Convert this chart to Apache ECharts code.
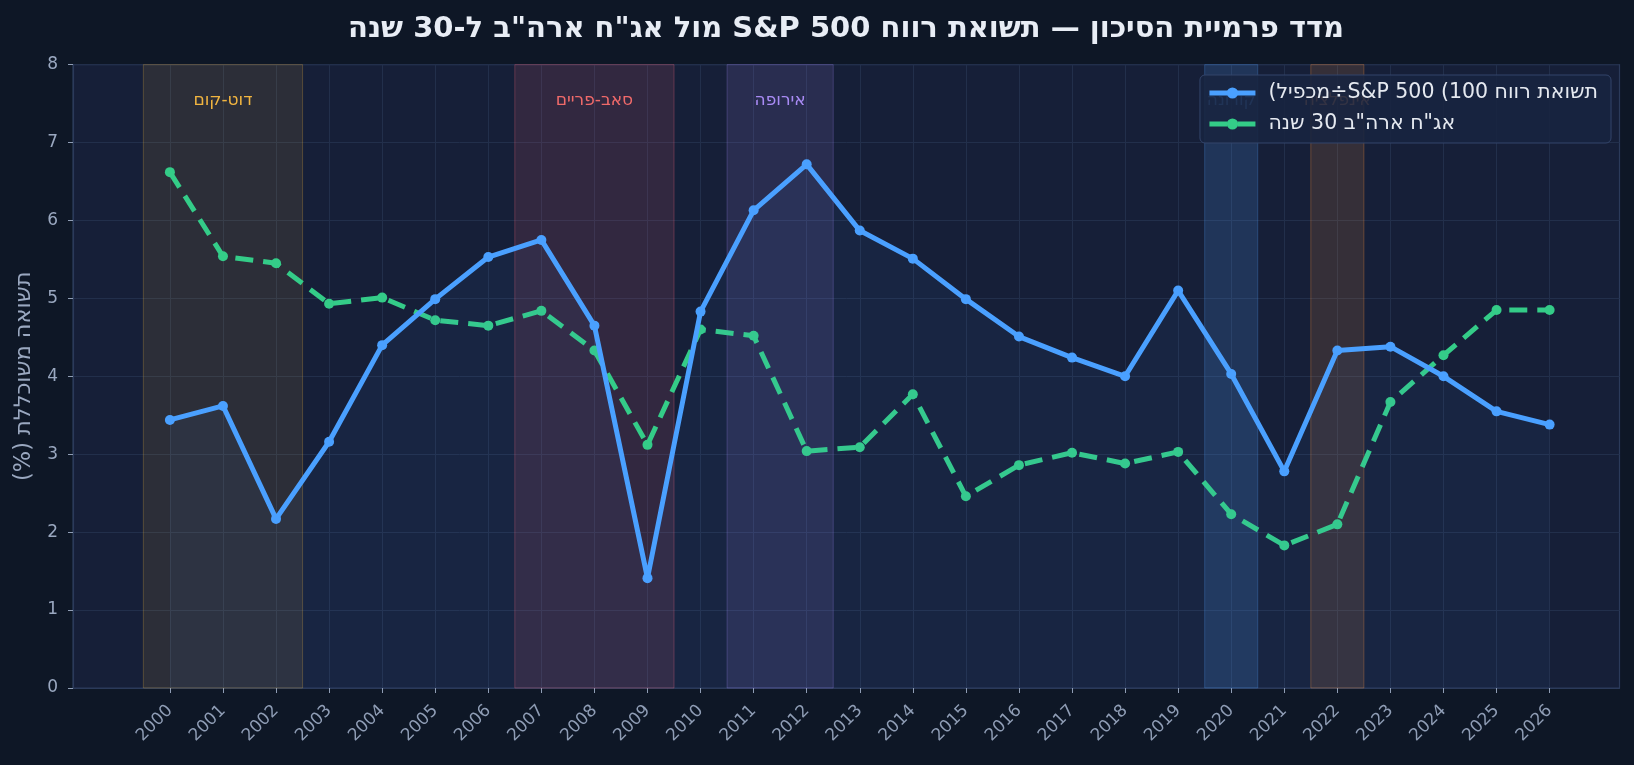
<!DOCTYPE html>
<html>
<head>
<meta charset="utf-8">
<script src="https://cdn.jsdelivr.net/npm/echarts@6/dist/echarts.min.js"></script>
<style>
html,body{margin:0;padding:0;background:#0e1726;}
#chart{width:1634px;height:765px;direction:rtl;}
</style>
</head>
<body>
<div id="chart" dir="rtl"></div>
<script>
const years = [2000,2001,2002,2003,2004,2005,2006,2007,2008,2009,2010,2011,2012,2013,2014,2015,2016,2017,2018,2019,2020,2021,2022,2023,2024,2025,2026];
const earningsYield = [3.44,3.62,2.17,3.16,4.40,4.99,5.53,5.75,4.65,1.41,4.83,6.13,6.72,5.87,5.51,4.99,4.51,4.24,4.00,5.10,4.03,2.78,4.33,4.38,4.00,3.55,3.38];
const treasury30 = [6.62,5.54,5.45,4.93,5.01,4.72,4.65,4.84,4.33,3.12,4.60,4.52,3.04,3.09,3.77,2.46,2.86,3.02,2.88,3.03,2.23,1.83,2.10,3.67,4.27,4.85,4.85];
// \u2066 ... \u2069 = LTR isolate, so the brackets are laid out as in the reference
const seriesNames = ['תשואת רווח \u2066S&P 500 (100\u2069÷מכפיל)', 'אג"ח ארה"ב 30 שנה'];
const bandLabels = ['דוט-קום','סאב-פריים','אירופה','קורונה','אינפלציה'];
const bandStart = [1999.5,2006.5,2010.5,2019.5,2021.5];
const bandEnd = [2002.5,2009.5,2012.5,2020.5,2022.5];
const bandColors = ['rgba(245,184,61,0.10)','rgba(240,100,120,0.13)','rgba(167,139,250,0.13)','rgba(74,144,226,0.2)','rgba(251,146,60,0.14)'];
const bandBorders = ['rgba(245,184,61,0.25)','rgba(240,100,120,0.3)','rgba(167,139,250,0.25)','rgba(74,144,226,0.3)','rgba(251,146,60,0.3)'];
const bandTextColors = ['#f0b440','#f06a6a','#a98bf5','#5b9bf0','#f0935a'];
const yTicks = [0,1,2,3,4,5,6,7,8];

const FONT = 'DejaVu Sans';
const chart = echarts.init(document.getElementById('chart'), null, {renderer:'canvas'});

const markData = bandLabels.map((n,i)=>[
  {xAxis: bandStart[i], name: n,
   itemStyle:{color: bandColors[i], borderColor: bandBorders[i], borderWidth: 1},
   label:{color: bandTextColors[i]}},
  {xAxis: bandEnd[i]}
]);

chart.setOption({
  backgroundColor:'#0e1726',
  animation:false,
  textStyle:{fontFamily:FONT},
  title:{
    text:'מדד פרמיית הסיכון — תשואת רווח S&P 500 מול אג"ח ארה"ב ל-30 שנה',
    left:846, top:12, padding:0, textAlign:'center',
    textStyle:{color:'#e8edf5', fontSize:29, lineHeight:34, fontWeight:'bold', fontFamily:FONT}
  },
  grid:{left:73, right:14.5, top:64.6, bottom:77, show:true,
        backgroundColor:'#161f38', borderColor:'#2b3a5a', borderWidth:1.2},
  legend:{
    orient:'vertical', right:23, top:75, z:20,
    padding:[7,13,8,7], itemGap:9,
    itemWidth:46, itemHeight:14,
    backgroundColor:'rgba(24,36,64,0.88)', borderColor:'#33446a', borderWidth:1, borderRadius:5,
    lineStyle:{width:5},
    itemStyle:{},
    textStyle:{color:'#e5e9f0', fontSize:20.5, lineHeight:22, fontFamily:FONT, padding:[0,0,0,8]},
    data: seriesNames
  },
  xAxis:{
    type:'value', min:1998.174, max:2027.317,
    axisLine:{show:true, lineStyle:{color:'#2b3a5a', width:1.2}},
    axisTick:{show:true, customValues: years, length:5, lineStyle:{color:'#8f9db5'}},
    axisLabel:{customValues: years, rotate:45, color:'#8f9db5', fontSize:17, margin:20, fontFamily:FONT,
               formatter: v => String(Math.round(v))},
    splitLine:{show:true, lineStyle:{color:'#222f4b', width:1}}
  },
  yAxis:{
    type:'value', min:0, max:8, interval:1,
    name:'תשואה משוכללת (%)', nameLocation:'middle', nameRotate:90, nameGap:37,
    nameTextStyle:{color:'#9aa8c0', fontSize:22.5, fontFamily:FONT},
    axisLine:{show:true, lineStyle:{color:'#2b3a5a', width:1.2}},
    axisTick:{show:true, length:5, lineStyle:{color:'#8f9db5'}},
    axisLabel:{color:'#9aa8c0', fontSize:17, margin:15, fontFamily:FONT,
               customValues: yTicks},
    splitLine:{show:true, lineStyle:{color:'#222f4b', width:1}}
  },
  series:[
    {
      name: seriesNames[0], type:'line',
      data: years.map((y,i)=>[y, earningsYield[i]]),
      symbol:'circle', symbolSize:10, z:5,
      lineStyle:{color:'#4aa0ff', width:5},
      itemStyle:{color:'#4aa0ff'},
      areaStyle:{color:'rgba(74,158,255,0.07)', origin:'start'},
      markArea:{
        silent:true, z:1,
        label:{show:true, position:'insideTop', distance:28, fontSize:17, fontFamily:FONT},
        data: markData
      }
    },
    {
      name: seriesNames[1], type:'line',
      data: years.map((y,i)=>[y, treasury30[i]]),
      symbol:'circle', symbolSize:10, z:4,
      lineStyle:{color:'#34cc88', width:5, type:[18,10]},
      itemStyle:{color:'#34cc88'}
    }
  ]
});
</script>
</body>
</html>
